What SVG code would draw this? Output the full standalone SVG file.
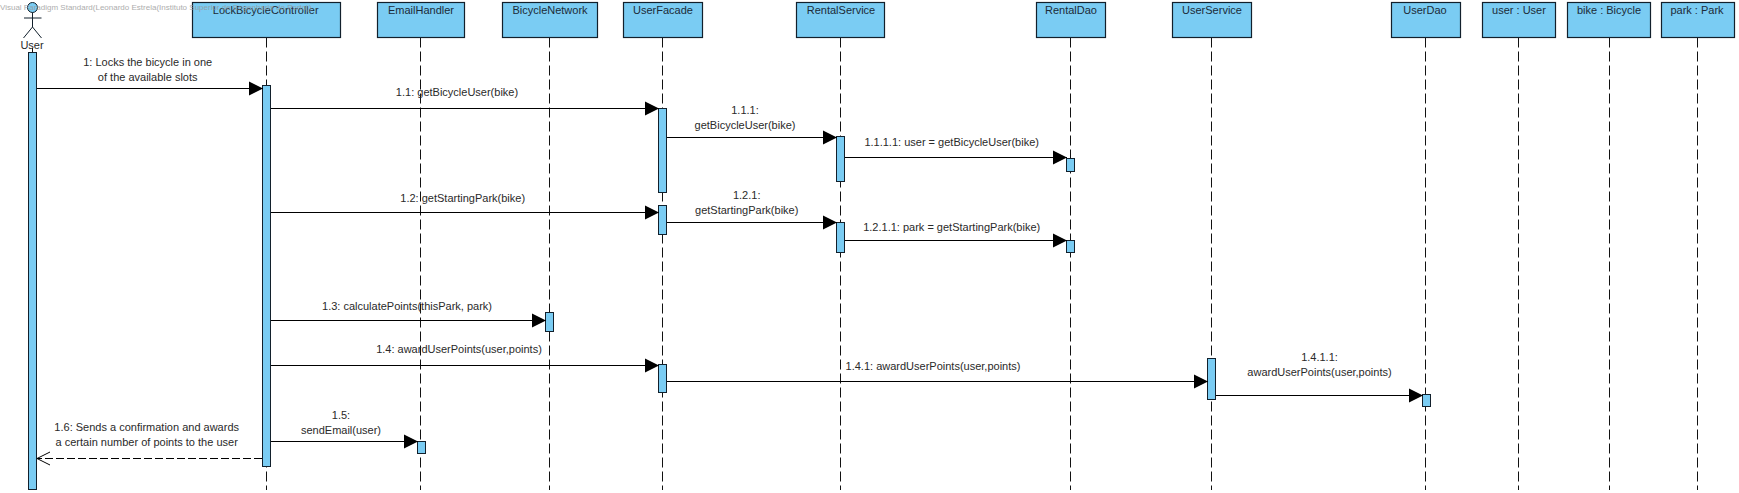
<svg xmlns="http://www.w3.org/2000/svg" width="1739" height="493" viewBox="0 0 1739 493">
<style>
text{font-family:"Liberation Sans",Arial,sans-serif;font-size:11px;fill:#2a2a2a;text-anchor:middle}
.box,.bar{fill:#7accf3;stroke:#12202c;stroke-width:1}
.box{stroke-width:1.2}
.life{stroke:#111;stroke-width:1;stroke-dasharray:10 4;fill:none}
.actor{fill:none;stroke:#12202c;stroke-width:1}
.msg{stroke:#000;stroke-width:1;fill:none}
.ret{stroke:#000;stroke-width:1;fill:none;stroke-dasharray:8 3}
.name{fill:#1c2b38}
.wm{font-size:8px;fill:#999;text-anchor:start;opacity:.8}
</style>
<defs>
<marker id="solid" markerUnits="userSpaceOnUse" markerWidth="15" markerHeight="15" refX="14" refY="7.5" orient="auto"><path d="M0 .5L14 7.5L0 14.5Z" fill="#000"/></marker>
<marker id="open" markerUnits="userSpaceOnUse" markerWidth="15" markerHeight="16" refX="14" refY="8" orient="auto"><path d="M1 1.5L14 8L1 14.5" fill="none" stroke="#000" stroke-width="1"/></marker>
</defs>
<rect width="1739" height="493" fill="#fff"/>
<g id="node-user">
<path class="life" d="M32.5 48V490"/>
<circle cx="32.5" cy="7.5" r="5" fill="#7accf3" stroke="#12202c"/>
<path class="actor" d="M32.5 12.5V27M24 18H41.5M23.5 38L32.5 27L41.5 38"/>
<text x="32" y="49">User</text>
<rect class="bar" x="28.5" y="52.5" width="8" height="437"/>
</g>
<g id="node-lockbicyclecontroller">
<path class="life" d="M266.5 37.5V490"/>
<rect class="box" x="192.5" y="2.5" width="148" height="35"/>
<text class="name" x="265.7" y="14">LockBicycleController</text>
<rect class="bar" x="262.5" y="85.5" width="8" height="381"/>
</g>
<g id="node-emailhandler">
<path class="life" d="M420.5 37.5V490"/>
<rect class="box" x="377.5" y="2.5" width="87" height="35"/>
<text class="name" x="421" y="14">EmailHandler</text>
<rect class="bar" x="417.5" y="441.5" width="8" height="12"/>
</g>
<g id="node-bicyclenetwork">
<path class="life" d="M549.5 37.5V490"/>
<rect class="box" x="502.5" y="2.5" width="95" height="35"/>
<text class="name" x="550" y="14">BicycleNetwork</text>
<rect class="bar" x="545.5" y="312.5" width="8" height="19"/>
</g>
<g id="node-userfacade">
<path class="life" d="M662.5 37.5V490"/>
<rect class="box" x="623.5" y="2.5" width="79" height="35"/>
<text class="name" x="663" y="14">UserFacade</text>
<rect class="bar" x="658.5" y="108.5" width="8" height="84"/>
<rect class="bar" x="658.5" y="205.5" width="8" height="29"/>
<rect class="bar" x="658.5" y="364.5" width="8" height="28"/>
</g>
<g id="node-rentalservice">
<path class="life" d="M840.5 37.5V490"/>
<rect class="box" x="796.5" y="2.5" width="88" height="35"/>
<text class="name" x="841" y="14">RentalService</text>
<rect class="bar" x="836.5" y="136.5" width="8" height="45"/>
<rect class="bar" x="836.5" y="222.5" width="8" height="30"/>
</g>
<g id="node-rentaldao">
<path class="life" d="M1070.5 37.5V490"/>
<rect class="box" x="1036.5" y="2.5" width="69" height="35"/>
<text class="name" x="1071" y="14">RentalDao</text>
<rect class="bar" x="1066.5" y="158.5" width="8" height="13"/>
<rect class="bar" x="1066.5" y="240.5" width="8" height="12"/>
</g>
<g id="node-userservice">
<path class="life" d="M1211.5 37.5V490"/>
<rect class="box" x="1172.5" y="2.5" width="79" height="35"/>
<text class="name" x="1212" y="14">UserService</text>
<rect class="bar" x="1207.5" y="358.5" width="8" height="41"/>
</g>
<g id="node-userdao">
<path class="life" d="M1425.5 37.5V490"/>
<rect class="box" x="1391.5" y="2.5" width="69" height="35"/>
<text class="name" x="1425" y="14">UserDao</text>
<rect class="bar" x="1422.5" y="394.5" width="8" height="12"/>
</g>
<g id="node-user-user">
<path class="life" d="M1518.5 37.5V490"/>
<rect class="box" x="1482.5" y="2.5" width="73" height="35"/>
<text class="name" x="1519" y="14">user : User</text>
</g>
<g id="node-bike-bicycle">
<path class="life" d="M1609.5 37.5V490"/>
<rect class="box" x="1567.5" y="2.5" width="83" height="35"/>
<text class="name" x="1609" y="14">bike : Bicycle</text>
</g>
<g id="node-park-park">
<path class="life" d="M1697.5 37.5V490"/>
<rect class="box" x="1661.5" y="2.5" width="73" height="35"/>
<text class="name" x="1697" y="14">park : Park</text>
</g>
<g id="connectors">
<path class="msg" marker-end="url(#solid)" d="M37 88.5H263"/>
<text x="147.7" y="66">1: Locks the bicycle in one</text>
<text x="147.7" y="81">of the available slots</text>
<path class="msg" marker-end="url(#solid)" d="M271 108.5H659"/>
<text x="457" y="96">1.1: getBicycleUser(bike)</text>
<path class="msg" marker-end="url(#solid)" d="M667 137.5H837"/>
<text x="745" y="114">1.1.1:</text>
<text x="745" y="129">getBicycleUser(bike)</text>
<path class="msg" marker-end="url(#solid)" d="M845 157.5H1067"/>
<text x="951.7" y="146">1.1.1.1: user = getBicycleUser(bike)</text>
<path class="msg" marker-end="url(#solid)" d="M271 212.5H659"/>
<text x="462.7" y="202">1.2: getStartingPark(bike)</text>
<path class="msg" marker-end="url(#solid)" d="M667 222.5H837"/>
<text x="746.7" y="199">1.2.1:</text>
<text x="746.7" y="214">getStartingPark(bike)</text>
<path class="msg" marker-end="url(#solid)" d="M845 240.5H1067"/>
<text x="951.7" y="231">1.2.1.1: park = getStartingPark(bike)</text>
<path class="msg" marker-end="url(#solid)" d="M271 320.5H546"/>
<text x="407" y="310">1.3: calculatePoints(thisPark, park)</text>
<path class="msg" marker-end="url(#solid)" d="M271 365.5H659"/>
<text x="459" y="353">1.4: awardUserPoints(user,points)</text>
<path class="msg" marker-end="url(#solid)" d="M667 381.5H1208"/>
<text x="933" y="370">1.4.1: awardUserPoints(user,points)</text>
<path class="msg" marker-end="url(#solid)" d="M1216 395.5H1423"/>
<text x="1319.5" y="361">1.4.1.1:</text>
<text x="1319.5" y="376">awardUserPoints(user,points)</text>
<path class="msg" marker-end="url(#solid)" d="M271 441.5H418"/>
<text x="341" y="419">1.5:</text>
<text x="341" y="434">sendEmail(user)</text>
<path class="ret" marker-end="url(#open)" d="M262 458.5H37"/>
<text x="146.7" y="431">1.6: Sends a confirmation and awards</text>
<text x="146.7" y="446">a certain number of points to the user</text>
</g>
<text class="wm" x="0" y="10">Visual Paradigm Standard(Leonardo Estrela(Instituto Superior de Engenharia do Porto))</text>
</svg>
